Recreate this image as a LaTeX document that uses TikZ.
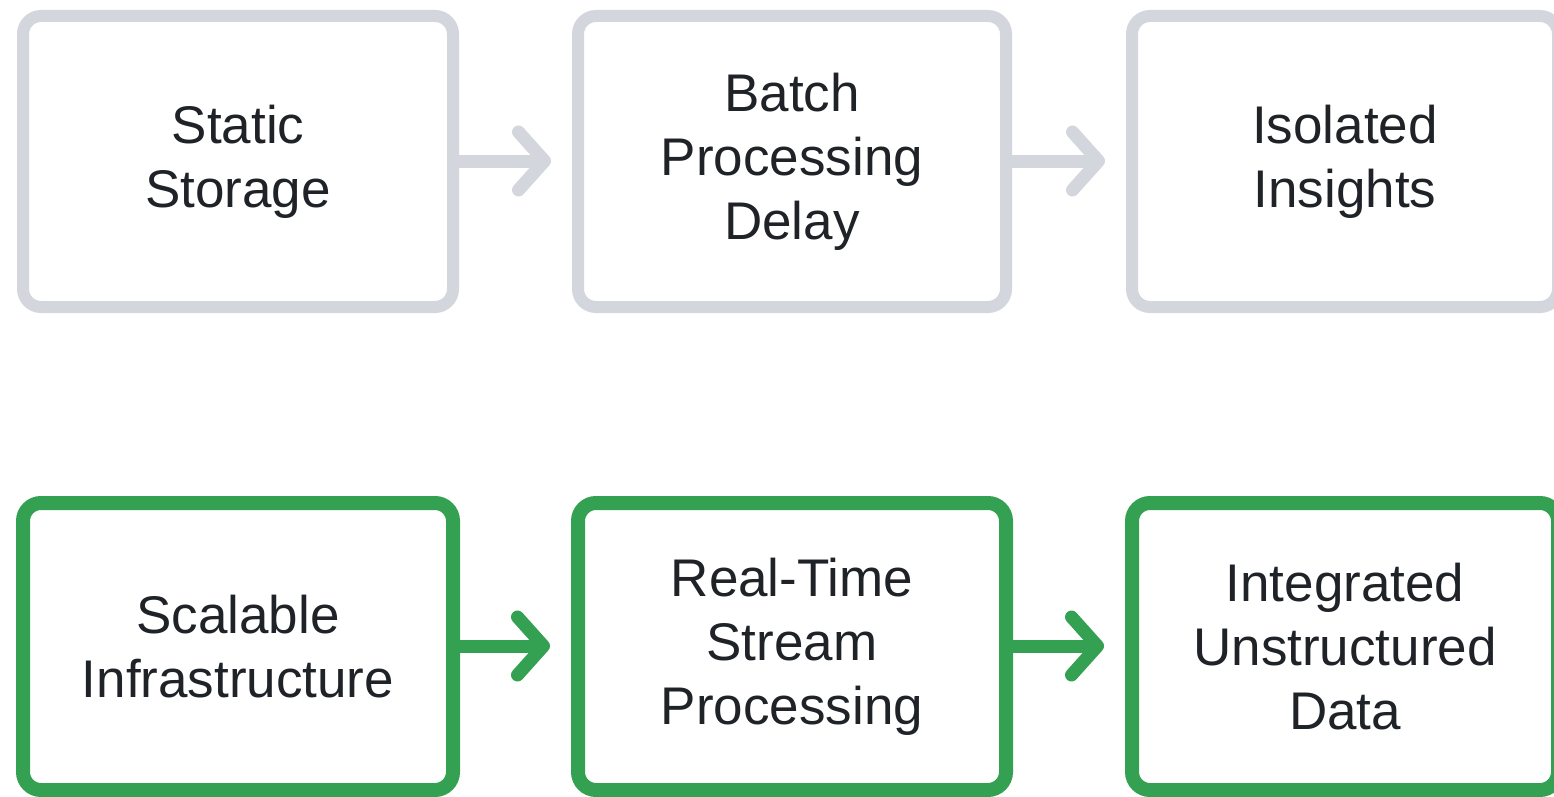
\documentclass[tikz,border=0pt]{standalone}
\usepackage{fontspec}
\setmainfont{Liberation Sans}
\usetikzlibrary{arrows.meta}
\definecolor{grayline}{HTML}{D3D7DD}
\definecolor{greenline}{HTML}{34A052}
\definecolor{txt}{HTML}{1F2328}
\tikzset{
  box/.style={draw, rounded corners=18pt, align=center, text=txt,
    font=\fontsize{53}{64}\selectfont, inner sep=0pt},
  oldbox/.style={box, draw=grayline, line width=12pt, minimum height=291pt},
  newbox/.style={box, draw=greenline, line width=14pt, minimum height=287pt},
  arr/.style={line width=13pt, line cap=round,
    -{Straight Barb[length=26pt,width=58pt,line cap=round,line join=round]},
    shorten >=21pt},
  oldarr/.style={arr, draw=grayline},
  newarr/.style={arr, draw=greenline},
}
\begin{document}
\begin{tikzpicture}[x=1pt,y=-1pt]
\useasboundingbox[fill=white] (0,0) rectangle (1554,797);
\begin{scope}
\clip (0,0) rectangle (1554,797);
% top row
\node[oldbox, minimum width=430pt] (s1) at (238,161.5) {Static\\Storage};
\node[oldbox, minimum width=428pt] (s2) at (792,161.5) {Batch\\Processing\\Delay};
\node[oldbox, minimum width=426pt] (s3) at (1345,161.5) {Isolated\\Insights};
% bottom row
\node[newbox, minimum width=430pt] (n1) at (238,646.5) {Scalable\\Infrastructure};
\node[newbox, minimum width=428pt] (n2) at (792,646.5) {Real-Time\\Stream\\Processing};
\node[newbox, minimum width=426pt] (n3) at (1345,646.5) {Integrated\\Unstructured\\Data};
% arrows
\draw[oldarr] (s1.east |- 0,161) -- (s2.west |- 0,161);
\draw[oldarr] (s2.east |- 0,161) -- (s3.west |- 0,161);
\draw[newarr] (n1.east |- 0,646) -- (n2.west |- 0,646);
\draw[newarr] (n2.east |- 0,646) -- (n3.west |- 0,646);
\end{scope}
\end{tikzpicture}
\end{document}
